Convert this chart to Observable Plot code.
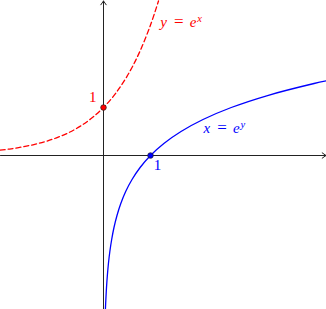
<!DOCTYPE html>
<html>
<head>
<meta charset="utf-8">
<script src="https://cdn.jsdelivr.net/npm/d3@7"></script>
<script src="https://cdn.jsdelivr.net/npm/@observablehq/plot@0.6"></script>
<style>
  html, body { margin: 0; padding: 0; background: #fff; }
  svg { display: block; }
</style>
</head>
<body>
<div id="chart"></div>
<script>
// Red dashed curve y = e^x
const expX = [-2.2, -2.0, -1.75, -1.5, -1.25, -1.0, -0.75, -0.5, -0.25, 0, 0.25, 0.5, 0.75, 1.0, 1.17];
const expY = [0.111, 0.135, 0.174, 0.223, 0.287, 0.368, 0.472, 0.607, 0.779, 1.0, 1.284, 1.649, 2.117, 2.718, 3.22];

// Blue curve x = e^y
const logY = [-3.21, -3.0, -2.75, -2.5, -2.25, -2.0, -1.75, -1.5, -1.25, -1.0, -0.75, -0.5, -0.25, 0, 0.25, 0.5, 0.75, 1.0, 1.25, 1.5, 1.56];
const logX = [0.040, 0.050, 0.064, 0.082, 0.105, 0.135, 0.174, 0.223, 0.287, 0.368, 0.472, 0.607, 0.779, 1.0, 1.284, 1.649, 2.117, 2.718, 3.49, 4.48, 4.76];

// Marked points
const pointX = [0, 1];
const pointY = [1, 0];
const pointSeries = ["exp", "log"];

// Labels
const labelText = ["1", "1"];
const labelX = [-0.23, 1.15];
const labelY = [1.22, -0.21];
const labelSeries = ["exp", "log"];

const eqLeft = ["y", "x"];
const eqBase = ["e", "e"];
const eqExp = ["x", "y"];
const eqX = [1.21, 2.13];
const eqY = [2.77, 0.57];
const eqSeries = ["exp", "log"];

// Axis extents
const xDomain = [-2.1915, 4.7447];
const yDomain = [-3.2083, 3.2292];

const colors = { exp: "#ff0000", log: "#0000ff" };

const expData = expX.map((x, i) => ({ x, y: expY[i] }));
const logData = logY.map((y, i) => ({ x: logX[i], y }));
const pts = pointX.map((x, i) => ({ x, y: pointY[i], s: pointSeries[i] }));
const labels = labelText.map((t, i) => ({ t, x: labelX[i], y: labelY[i], s: labelSeries[i] }));
const eqs = eqLeft.map((t, i) => ({ t, b: eqBase[i], e: eqExp[i], x: eqX[i], y: eqY[i], s: eqSeries[i] }));

const axes = [
  { x1: xDomain[0], y1: 0, x2: xDomain[1] - 0.01, y2: 0 },
  { x1: 0, y1: yDomain[0], x2: 0, y2: yDomain[1] - 0.01 }
];

const plot = Plot.plot({
  width: 326,
  height: 309,
  margin: 0,
  x: { domain: xDomain, axis: null },
  y: { domain: yDomain, axis: null },
  marks: [
    Plot.arrow(axes, { x1: "x1", y1: "y1", x2: "x2", y2: "y2", stroke: "#222", strokeWidth: 1, headLength: 7, headAngle: 70 }),
    Plot.line(expData, { x: "x", y: "y", stroke: colors.exp, strokeWidth: 1.3, strokeDasharray: "5,3", curve: "catmull-rom", clip: true }),
    Plot.line(logData, { x: "x", y: "y", stroke: colors.log, strokeWidth: 1.3, curve: "catmull-rom", clip: true }),
    Plot.dot(pts, { x: "x", y: "y", r: 2.8, fill: d => colors[d.s], stroke: "#222", strokeWidth: 0.7 }),
    Plot.text(labels, { x: "x", y: "y", text: "t", fill: d => colors[d.s], fontSize: 15, fontFamily: "Liberation Serif" }),
    Plot.text(eqs, { x: "x", y: "y", text: "t", fill: d => colors[d.s], fontSize: 15, fontFamily: "Liberation Serif", fontStyle: "italic", textAnchor: "start", className: "eq" })
  ]
});

// build "= e^sup" with tspans
d3.select(plot).selectAll("g.eq text").each(function(d, i) {
  const e = eqs[i];
  const t = d3.select(this);
  t.append("tspan").attr("font-style", "normal").attr("font-size", 17).attr("dx", 7).text("=");
  t.append("tspan").attr("dx", 6).text(e.b);
  t.append("tspan").attr("font-size", 10.5).attr("dy", "-0.5em").attr("dx", 1).text(e.e);
});

document.getElementById("chart").appendChild(plot);
</script>
</body>
</html>
